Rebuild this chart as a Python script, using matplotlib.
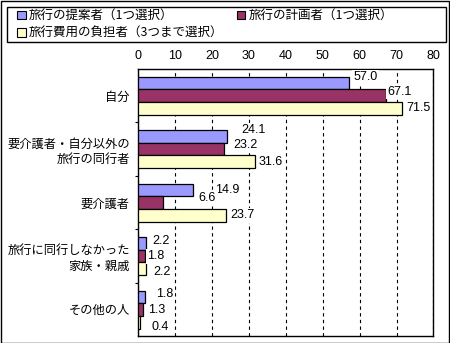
import matplotlib
matplotlib.use("Agg")
import matplotlib.pyplot as plt
from matplotlib.patches import Rectangle
import numpy as np

categories = ["自分", "要介護者・自分以外の\n旅行の同行者", "要介護者",
              "旅行に同行しなかった\n家族・親戚", "その他の人"]
series_names = ["旅行の提案者（1つ選択）", "旅行の計画者（1つ選択）",
                "旅行費用の負担者（3つまで選択）"]
proposer = [57.0, 24.1, 14.9, 2.2, 1.8]
planner = [67.1, 23.2, 6.6, 1.8, 1.3]
payer = [71.5, 31.6, 23.7, 2.2, 0.4]
xticks = [0, 10, 20, 30, 40, 50, 60, 70, 80]

colors = ["#9999FF", "#993366", "#FFFFCC"]
# label offsets in pixels (dx from bar end, dy upward) to mimic Excel placement
label_dx = [[5, 14, 22, 6, 11], [2, 9, 36, 2.5, 5], [4, 3.5, 4.5, 7, 12]]
label_dy = [[6, 6, 0, 2, 2.7], [4, 4.5, 5, 0, 0], [0, 0, 0, -3, -4.4]]

CJK = ["Noto Sans CJK JP", "DejaVu Sans"]
NUM = ["Liberation Sans", "DejaVu Sans"]

W, H = 450, 343
fig = plt.figure(figsize=(W / 100, H / 100), dpi=100)
fig.patch.set_facecolor("white")


def fx(px):
    return px / W


def fy(py):
    return 1 - py / H


fig.patches.append(Rectangle((0.5 / W, 0.5 / H), (W - 1.5) / W, (H - 1.5) / H,
                             transform=fig.transFigure, fill=False,
                             edgecolor="black", linewidth=1.0))

left, right, top, bottom = 138.3, 433.4, 68.7, 336.0
ax = fig.add_axes([fx(left), fy(bottom), (right - left) / W, (bottom - top) / H])

n = len(categories)
y = np.arange(n)
h = 0.237
all_series = [proposer, planner, payer]
for k, vals in enumerate(all_series):
    pos = y + (k - 1) * h + 0.005
    ax.barh(pos, vals, height=h, color=colors[k], edgecolor="black",
            linewidth=0.9, zorder=3)
    for i, v in enumerate(vals):
        ax.annotate(f"{v:.1f}", xy=(v, pos[i]), xytext=(label_dx[k][i], label_dy[k][i]),
                    textcoords="offset pixels", ha="left", va="center",
                    fontsize=9, family=NUM, zorder=6, annotation_clip=False,
                    bbox=dict(boxstyle="square,pad=0.12", facecolor="white",
                              edgecolor="none"))

ax.set_xlim(0, 80)
ax.set_ylim(n - 0.5, -0.5)
ax.set_xticks(xticks)
ax.set_xticklabels([str(t) for t in xticks], family=NUM, fontsize=9)
ax.xaxis.tick_top()
ax.tick_params(axis="x", length=0, pad=4.5)
ax.set_yticks(y)
ax.set_yticklabels(categories, family=CJK, fontsize=8.8, linespacing=1.3)
ax.tick_params(axis="y", which="major", length=0, pad=6)
ax.set_yticks(np.arange(0.5, n - 0.5, 1.0), minor=True)
ax.tick_params(axis="y", which="minor", length=2.4, direction="out", width=0.8)
ax.grid(axis="x", color="black", linestyle=(0, (3, 3)), linewidth=0.8, zorder=1)
ax.set_axisbelow(True)
for s in ax.spines.values():
    s.set_linewidth(1.0)
    s.set_color("black")

# legend drawn manually to match the Excel layout
fig.patches.append(Rectangle((fx(7), fy(41.7)), fx(446) - fx(7), fy(7) - fy(41.7),
                             transform=fig.transFigure, facecolor="white",
                             edgecolor="black", linewidth=1.0))
legend_slots = [(17, 15), (237, 15), (17, 32.5)]
msz = 8.5
for k, (lx, ly) in enumerate(legend_slots):
    fig.patches.append(Rectangle((fx(lx), fy(ly + msz / 2)), msz / W, msz / H,
                                 transform=fig.transFigure, facecolor=colors[k],
                                 edgecolor="black", linewidth=0.8))
    fig.text(fx(lx + msz + 3), fy(ly), series_names[k], ha="left", va="center",
             family=CJK, fontsize=9)

fig.savefig("out.png", dpi=100, facecolor="white")
